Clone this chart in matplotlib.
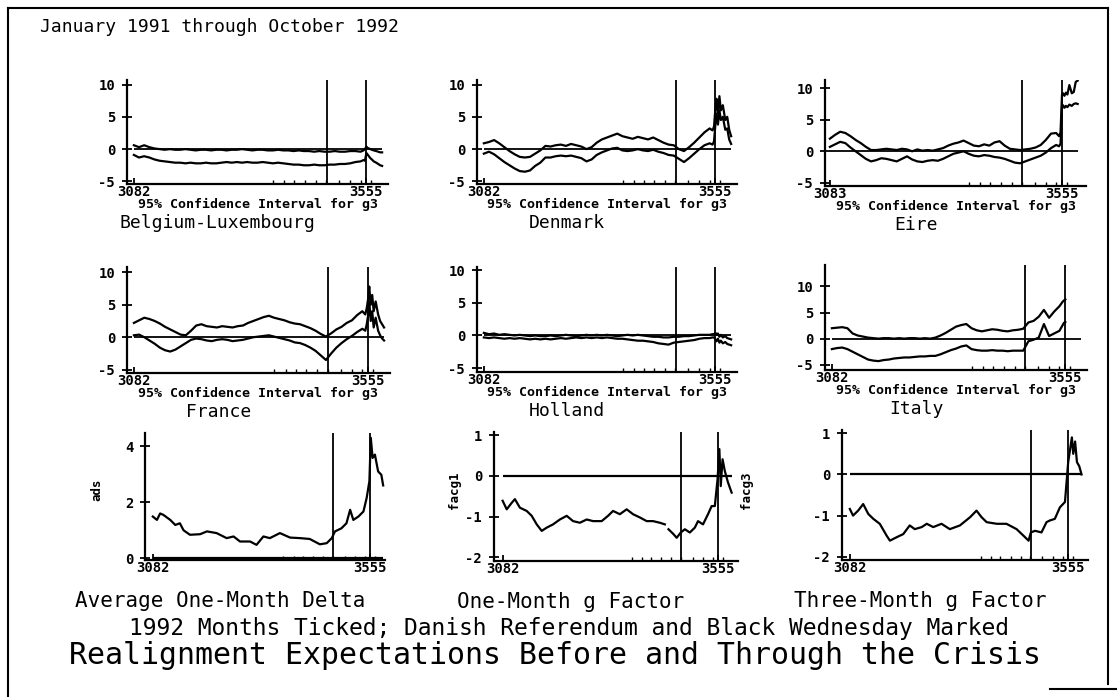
import numpy as np
import matplotlib.pyplot as plt

plt.rcParams['font.family'] = ['DejaVu Sans Mono']
plt.rcParams['axes.unicode_minus'] = False

W, H = 1117, 697

# business-day index; Danish referendum and Black Wednesday
DANISH = 3475
BLACK_WED = 3555
months_1992 = [3366, 3389, 3409, 3431, 3453, 3474, 3500, 3523, 3544, 3566]

# sample days for the confidence bands (denser after the crisis)
days = np.r_[np.arange(3082, 3540, 10.5),
             [3544, 3550, 3553, 3556, 3558, 3561, 3564, 3567, 3571, 3576, 3580, 3584, 3588]]
nan = np.nan

belg_hi = [0.6, 0.3, 0.6, 0.3, 0.1, 0.0, -0.1, 0.0, -0.1, -0.1,
           0.0, -0.1, -0.2, -0.1, -0.1, -0.2, -0.1, -0.1, -0.2, -0.1,
           -0.1, 0.0, -0.1, -0.2, -0.1, -0.1, -0.2, -0.2, -0.1, -0.2,
           -0.2, -0.3, -0.2, -0.3, -0.3, -0.4, -0.3, -0.4, -0.4, -0.3,
           -0.4, -0.4, -0.3, -0.3, -0.4, -0.2, 0.0,
           0.4, 0.2, 0.1, 0.0, -0.1, -0.2, -0.3, -0.4, -0.5, -0.5]
belg_lo = [-0.9, -1.3, -1.1, -1.3, -1.6, -1.8, -1.9, -2.0, -2.1, -2.1,
           -2.2, -2.1, -2.2, -2.2, -2.1, -2.2, -2.2, -2.1, -2.0, -2.1,
           -2.0, -2.1, -2.0, -2.1, -2.1, -2.0, -2.1, -2.2, -2.1, -2.2,
           -2.3, -2.4, -2.4, -2.5, -2.5, -2.4, -2.5, -2.5, -2.4, -2.4,
           -2.3, -2.3, -2.2, -2.0, -1.9, -1.7, -1.8,
           -0.6, -0.8, -1.1, -1.4, -1.6, -1.9, -2.1, -2.3, -2.5, -2.6]

den_hi = [0.9, 1.1, 1.4, 0.9, 0.3, -0.3, -0.8, -1.2, -1.3, -1.2,
          -0.7, -0.2, 0.5, 0.4, 0.6, 0.7, 0.5, 0.8, 0.6, 0.4,
          0.0, 0.3, 1.0, 1.5, 1.8, 2.1, 2.4, 2.0, 1.8, 1.6,
          1.9, 1.7, 1.5, 1.8, 1.4, 1.0, 0.7, 0.6, 0.0, -0.3,
          0.3, 1.0, 1.8, 2.6, 3.2, 2.9, 3.5,
          6.5, 7.8, 5.5, 8.2, 6.0, 6.8, 4.5, 5.0, 3.0, 2.0]
den_lo = [-0.7, -0.4, -0.8, -1.4, -2.0, -2.5, -3.0, -3.4, -3.5, -3.3,
          -2.6, -2.1, -1.3, -1.3, -1.1, -1.0, -1.1, -1.0, -1.2, -1.4,
          -1.9, -1.6, -0.9, -0.5, -0.2, 0.1, 0.2, -0.2, -0.3, -0.2,
          0.0, -0.2, -0.3, -0.1, -0.4, -0.6, -0.9, -1.0, -1.5, -2.0,
          -1.4, -0.7, 0.0, 0.6, 0.9, 0.7, 1.2,
          4.0, 5.5, 3.8, 6.0, 4.5, 5.0, 3.0, 3.2, 1.5, 0.8]

eire_hi = [2.0, 2.6, 3.1, 2.9, 2.4, 1.8, 1.3, 0.7, 0.2, 0.2,
           0.3, 0.4, 0.3, 0.2, 0.4, 0.3, 0.0, 0.3, 0.1, 0.2,
           0.1, 0.3, 0.5, 0.9, 1.2, 1.4, 1.7, 1.3, 0.9, 0.8,
           1.1, 0.9, 1.4, 1.6, 0.9, 0.4, 0.3, 0.2, 0.3, 0.4,
           0.6, 1.0, 1.8, 2.8, 2.9, 2.4, 3.0,
           9.0, 9.2, 8.8, 9.3, 9.0, 10.5, 9.2, 9.4, 11.0, 11.2]
eire_lo = [0.7, 1.1, 1.5, 1.3, 0.6, 0.0, -0.6, -1.2, -1.6, -1.4,
           -1.1, -1.2, -1.4, -1.6, -1.2, -0.8, -1.3, -1.6, -1.7, -1.5,
           -1.4, -1.5, -1.2, -0.8, -0.4, -0.2, 0.0, -0.4, -0.7, -0.8,
           -0.6, -0.7, -0.9, -1.0, -1.2, -1.5, -1.8, -1.9, -1.6, -1.3,
           -1.0, -0.7, -0.2, 0.5, 1.0, 0.8, 1.2,
           7.0, 7.3, 6.9, 7.2, 7.0, 7.4, 7.2, 7.5, 7.6, 7.5]

fra_hi = [2.2, 2.6, 3.0, 2.8, 2.5, 2.1, 1.6, 1.2, 0.8, 0.4,
          0.3, 1.0, 1.8, 2.0, 1.7, 1.6, 1.5, 1.7, 1.6, 1.5,
          1.7, 1.8, 2.2, 2.5, 2.8, 3.1, 3.3, 3.0, 2.8, 2.6,
          2.3, 2.1, 2.0, 1.7, 1.4, 1.0, 0.5, 0.1, 0.6, 1.2,
          1.6, 2.2, 2.6, 3.4, 4.0, 3.5, 4.5,
          6.0, 7.8, 5.0, 6.5, 4.0, 5.5, 3.5, 2.5, 2.0, 1.5]
fra_lo = [0.3, 0.4, 0.0, -0.5, -1.0, -1.6, -2.0, -2.2, -1.9, -1.4,
          -0.9, -0.4, -0.2, -0.3, -0.5, -0.6, -0.4, -0.3, -0.4, -0.6,
          -0.5, -0.4, -0.2, 0.0, 0.1, 0.2, 0.3, 0.1, -0.1, -0.3,
          -0.5, -0.8, -0.9, -1.2, -1.6, -2.1, -2.8, -3.5, -2.5, -1.6,
          -0.9, -0.3, 0.2, 0.8, 1.3, 1.0, 2.0,
          3.5, 5.5, 2.5, 4.0, 1.5, 3.0, 1.0, 0.3, -0.2, -0.5]

hol_hi = [0.4, 0.2, 0.3, 0.1, 0.2, 0.1, 0.0, 0.1, 0.0, -0.1,
          0.0, -0.1, -0.1, 0.0, -0.1, 0.0, 0.1, 0.0, -0.1, 0.0,
          0.1, 0.0, 0.1, 0.0, 0.1, 0.0, -0.1, 0.0, 0.1, 0.0,
          0.1, 0.0, -0.1, -0.2, -0.2, -0.3, -0.3, -0.2, -0.2, -0.1,
          -0.1, 0.0, 0.1, 0.1, 0.1, 0.2, 0.2,
          0.4, 0.1, 0.3, -0.2, 0.1, -0.3, -0.1, -0.4, -0.5, -0.6]
hol_lo = [-0.3, -0.4, -0.3, -0.4, -0.5, -0.4, -0.5, -0.4, -0.5, -0.6,
          -0.5, -0.6, -0.5, -0.6, -0.5, -0.4, -0.5, -0.4, -0.3, -0.4,
          -0.3, -0.4, -0.3, -0.4, -0.3, -0.4, -0.5, -0.5, -0.6, -0.7,
          -0.8, -0.8, -0.9, -1.0, -1.2, -1.3, -1.4, -1.1, -1.0, -0.9,
          -0.8, -0.7, -0.5, -0.4, -0.4, -0.3, -0.3,
          -0.6, -0.9, -0.5, -1.1, -0.8, -1.2, -1.0, -1.3, -1.4, -1.5]

ita_hi = [2.0, 2.1, 2.2, 2.0, 1.0, 0.6, 0.4, 0.2, 0.1, 0.0,
          0.1, 0.1, 0.0, 0.1, 0.0, 0.1, 0.1, 0.0, 0.1, 0.0,
          0.2, 0.6, 1.1, 1.7, 2.3, 2.6, 2.8, 2.0, 1.6, 1.4,
          1.6, 1.8, 1.7, 1.5, 1.4, 1.6, 1.7, 1.9, 3.1, 3.4,
          4.2, 5.5, 4.0, 5.2, 6.2, 7.0, 7.3,
          7.5, nan, nan, nan, nan, nan, nan, nan, nan, nan]
ita_lo = [-2.0, -1.8, -1.7, -2.0, -2.5, -3.0, -3.5, -4.0, -4.2, -4.3,
          -4.1, -4.0, -3.8, -3.7, -3.6, -3.6, -3.5, -3.4, -3.4, -3.3,
          -3.3, -3.0, -2.6, -2.2, -1.9, -1.5, -1.3, -2.0, -2.2, -2.3,
          -2.3, -2.2, -2.3, -2.3, -2.4, -2.3, -2.3, -2.3, -0.5, -0.2,
          0.2, 2.8, 0.5, 1.0, 1.5, 2.5, 3.0,
          3.2, nan, nan, nan, nan, nan, nan, nan, nan, nan]

delta_days = [3082, 3091, 3098, 3105, 3120, 3131, 3141, 3149, 3163, 3185,
              3200, 3221, 3243, 3258, 3272, 3294, 3308, 3323, 3337, 3359,
              3381, 3403, 3424, 3446, 3461, 3472, 3479, 3493, 3504, 3512,
              3519, 3530, 3541, 3548, 3554, 3557, 3561, 3566, 3573, 3580, 3584]
delta_vals = [1.49, 1.37, 1.60, 1.55, 1.37, 1.19, 1.25, 1.00, 0.84, 0.86,
              0.96, 0.90, 0.72, 0.78, 0.60, 0.60, 0.48, 0.78, 0.72, 0.90,
              0.74, 0.72, 0.69, 0.50, 0.54, 0.72, 0.96, 1.07, 1.25, 1.73,
              1.37, 1.49, 1.67, 2.15, 2.75, 4.30, 3.58, 3.70, 3.10, 2.98, 2.60]

g1_days = [3082, 3091, 3102, 3109, 3120, 3135, 3146, 3157, 3168, 3179,
           3193, 3208, 3223, 3237, 3252, 3267, 3281, 3300, 3314, 3325,
           3340, 3355, 3369, 3384, 3399, 3413, 3428, 3439, 3442, 3447,
           3458, 3465, 3474, 3483, 3494, 3505, 3512, 3523, 3534, 3542,
           3549, 3555, 3559, 3562, 3566, 3571, 3578, 3586]
g1_vals = [-0.61, -0.82, -0.66, -0.57, -0.78, -0.86, -0.98, -1.19, -1.35, -1.27,
           -1.19, -1.07, -0.98, -1.11, -1.15, -1.07, -1.11, -1.11, -0.98, -0.86,
           -0.94, -0.82, -0.94, -1.02, -1.11, -1.11, -1.15, -1.19, nan, -1.31,
           -1.43, -1.52, -1.39, -1.31, -1.39, -1.27, -1.11, -1.19, -0.94, -0.74,
           -0.74, -0.08, 0.66, -0.25, 0.41, 0.12, -0.16, -0.41]

g3_days = [3082, 3089, 3100, 3111, 3122, 3133, 3147, 3162, 3169, 3183,
           3198, 3212, 3223, 3238, 3249, 3263, 3281, 3299, 3321, 3343,
           3357, 3368, 3379, 3401, 3422, 3444, 3459, 3470, 3475, 3484,
           3498, 3509, 3516, 3527, 3538, 3549, 3556, 3560, 3564, 3567,
           3571, 3575, 3580, 3585]
g3_vals = [-0.84, -1.00, -0.88, -0.72, -0.96, -1.08, -1.20, -1.49, -1.61, -1.53,
           -1.45, -1.24, -1.33, -1.28, -1.20, -1.28, -1.20, -1.33, -1.24, -1.04,
           -0.88, -1.04, -1.16, -1.20, -1.20, -1.33, -1.49, -1.61, -1.41, -1.37,
           -1.41, -1.16, -1.12, -1.08, -0.80, -0.67, 0.30, 0.60, 0.90, 0.50,
           0.80, 0.30, 0.20, 0.00]


def box(l, r, t, b):
    return [l / W, 1 - b / H, (r - l) / W, (b - t) / H]


def style(ax, xlim, ylim, yticks, first_lab):
    ax.set_xlim(xlim)
    ax.set_ylim(ylim)
    for s in ['top', 'right']:
        ax.spines[s].set_visible(False)
    for s in ['left', 'bottom']:
        ax.spines[s].set_linewidth(1.6)
    ax.set_yticks(yticks)
    ax.set_yticklabels([str(t) for t in yticks])
    ax.set_xticks([int(first_lab), 3555])
    ax.set_xticklabels([first_lab, '3555'])
    ax.set_xticks(months_1992, minor=True)
    ax.tick_params(axis='y', direction='inout', length=7, width=1.3,
                   labelsize=10, pad=5)
    ax.tick_params(axis='x', which='major', direction='in', length=4,
                   width=1.3, labelsize=10, pad=1)
    ax.tick_params(axis='x', which='minor', direction='in', length=3, width=1.0)
    for lab in ax.get_xticklabels() + ax.get_yticklabels():
        lab.set_fontweight('bold')
    ax.patch.set_alpha(0)


def events(ax):
    ax.axvline(DANISH, color='black', lw=1.3)
    ax.axvline(BLACK_WED, color='black', lw=1.3)


fig = plt.figure(figsize=(W / 100, H / 100), dpi=100)

bands = [
    ('Belgium-Luxembourg', belg_hi, belg_lo, (127, 388, 80, 184), (3068, 3600), (-5.4, 10.7), '3082'),
    ('Denmark', den_hi, den_lo, (477, 737, 80, 184), (3068, 3600), (-5.4, 10.7), '3082'),
    ('Eire', eire_hi, eire_lo, (825, 1086, 80, 186), (3072, 3605), (-5.5, 11.3), '3083'),
    ('France', fra_hi, fra_lo, (127, 390, 267, 373), (3068, 3600), (-5.5, 10.8), '3082'),
    ('Holland', hol_hi, hol_lo, (477, 737, 267, 372), (3068, 3600), (-5.6, 10.5), '3082'),
    ('Italy', ita_hi, ita_lo, (825, 1087, 265, 370), (3068, 3600), (-6.0, 14.1), '3082'),
]

for name, hi, lo, bx, xl, yl, first in bands:
    ax = fig.add_axes(box(*bx))
    ax.plot(days, hi, color='black', lw=1.6)
    ax.plot(days, lo, color='black', lw=1.6)
    ax.hlines(0, days[0], days[-1], color='black', lw=1.3)
    events(ax)
    style(ax, xl, yl, [-5, 0, 5, 10], first)
    ax.annotate('95% Confidence Interval for g3', xy=(0.5, 0), xycoords='axes fraction',
                xytext=(0, -20), textcoords='offset pixels', ha='center', va='center',
                fontsize=9.5, fontweight='bold')
    ax.annotate(name, xy=(0.5, 0), xycoords='axes fraction',
                xytext=(-40, -39), textcoords='offset pixels', ha='center', va='center',
                fontsize=13)

bottom = [
    ('Average One-Month Delta', delta_days, delta_vals, (145, 385, 433, 560),
     (3065, 3588), (-0.06, 4.47), [0, 2, 4]),
    ('One-Month g Factor', g1_days, g1_vals, (494, 738, 432, 561),
     (3063, 3600), (-2.09, 1.08), [-2, -1, 0, 1]),
    ('Three-Month g Factor', g3_days, g3_vals, (842, 1088, 430, 560),
     (3065, 3599), (-2.08, 1.08), [-2, -1, 0, 1]),
]

for name, xd, yd, bx, xl, yl, yt in bottom:
    ax = fig.add_axes(box(*bx))
    ax.plot(xd, yd, color='black', lw=1.6)
    ax.hlines(0, xd[0], xd[-1], color='black', lw=1.6)
    events(ax)
    style(ax, xl, yl, yt, '3082')
    ax.annotate(name, xy=(0.5, 0), xycoords='axes fraction',
                xytext=(-45, -41), textcoords='offset pixels', ha='center', va='center',
                fontsize=15)

# rotated variable names
for txt, x in [('ads', 97), ('facg1', 455), ('facg3', 746)]:
    fig.text(x / W, 1 - 490 / H, txt, rotation=90, ha='center', va='center',
             fontsize=9, fontweight='bold')

fig.text(40 / W, 1 - 27 / H, 'January 1991 through October 1992',
         ha='left', va='center', fontsize=13)
fig.text(569 / W, 1 - 628 / H,
         '1992 Months Ticked; Danish Referendum and Black Wednesday Marked',
         ha='center', va='center', fontsize=16.5)
fig.text(555 / W, 1 - 656 / H,
         'Realignment Expectations Before and Through the Crisis',
         ha='center', va='center', fontsize=21.5)

# scanned page frame
frame = dict(color='black', lw=1.5, transform=fig.transFigure)
fig.add_artist(plt.Line2D([8 / W, 8 / W], [0, 1 - 8 / H], **frame))
fig.add_artist(plt.Line2D([8 / W, 1108 / W], [1 - 8 / H, 1 - 8 / H], **frame))
fig.add_artist(plt.Line2D([1108 / W, 1108 / W], [1 - 8 / H, 1 - 684 / H], **frame))
fig.add_artist(plt.Line2D([1050 / W, 1117 / W], [1 - 689 / H, 1 - 689 / H], **frame))

fig.savefig('out.png', dpi=100)
